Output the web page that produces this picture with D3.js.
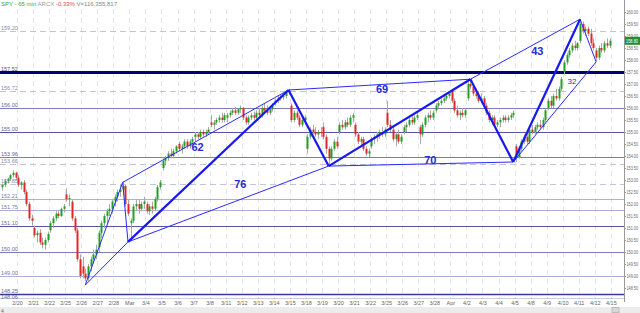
<!DOCTYPE html>
<html>
<head>
<meta charset="utf-8">
<script src="https://cdn.jsdelivr.net/npm/d3@7"></script>
<style>
  html, body { margin: 0; padding: 0; background: #fff; }
  svg { display: block; font-family: "Liberation Sans", Arial, sans-serif; }
</style>
</head>
<body>
<div id="chart"></div>
<script>
// day labels, first one (2/19) sits left of the first tick
const days = ['2/19', '2/20', '2/21', '2/22', '2/25', '2/26', '2/27', '2/28', 'Mar', '3/4', '3/5', '3/6', '3/7', '3/8',
  '3/11', '3/12', '3/13', '3/14', '3/15', '3/18', '3/19', '3/20', '3/21', '3/22', '3/25', '3/26', '3/27', '3/28',
  'Apr', '4/2', '4/3', '4/4', '4/5', '4/8', '4/9', '4/10', '4/11', '4/12', '4/15']
const barsPerDay = 6

// 65 min bars, one row per day: [open, high, low, close]
const bars = [
  [[152.70,152.85,152.55,152.80],[152.80,153.05,152.70,152.95],[152.95,153.10,152.85,153.05],[153.05,153.25,152.95,153.20],[153.20,153.40,153.10,153.30],[153.30,153.35,153.00,153.10]],
  [[153.10,153.20,152.70,152.80],[152.80,152.95,152.60,152.90],[152.90,153.00,152.40,152.50],[152.50,152.60,151.90,152.00],[152.00,152.10,151.30,151.40],[151.40,151.55,151.10,151.30]],
  [[151.00,151.10,150.60,150.70],[150.70,150.90,150.40,150.80],[150.80,150.95,150.30,150.40],[150.40,150.60,150.15,150.30],[150.30,150.60,150.10,150.50],[150.50,150.85,150.40,150.75]],
  [[150.90,151.30,150.80,151.20],[151.20,151.50,151.00,151.40],[151.40,151.70,151.30,151.60],[151.60,151.75,151.40,151.50],[151.50,151.85,151.45,151.80],[151.80,152.00,151.65,151.90]],
  [[152.40,152.65,152.10,152.20],[152.20,152.40,151.90,152.25],[152.10,152.20,151.30,151.40],[151.40,151.50,150.80,150.90],[150.90,151.00,149.60,149.70],[149.70,149.90,148.90,149.00]],
  [[149.40,149.80,148.90,149.10],[149.10,149.30,148.78,148.90],[148.90,149.50,148.80,149.40],[149.40,149.80,149.20,149.70],[149.70,150.10,149.50,149.90],[149.90,150.30,149.70,150.10]],
  [[150.20,150.90,150.00,150.80],[150.80,151.30,150.60,151.20],[151.20,151.60,151.00,151.50],[151.50,151.80,151.20,151.70],[151.70,152.00,151.50,151.80],[151.80,152.20,151.60,152.10]],
  [[152.10,152.40,151.90,152.30],[152.30,152.60,152.10,152.50],[152.50,152.80,152.30,152.60],[152.60,152.95,152.40,152.75],[152.75,152.80,151.90,152.00],[152.00,152.20,151.50,151.60]],
  [[151.20,151.40,150.50,151.30],[151.30,152.00,151.20,151.90],[151.90,152.20,151.70,152.00],[152.00,152.20,151.60,151.80],[151.80,152.10,151.70,152.00],[152.00,152.30,151.80,152.10]],
  [[152.00,152.10,151.60,151.70],[151.70,152.00,151.55,151.90],[151.90,152.10,151.60,151.80],[151.80,152.30,151.70,152.20],[152.20,152.80,152.10,152.70],[152.70,153.00,152.60,152.90]],
  [[153.50,153.90,153.40,153.80],[153.80,154.00,153.60,153.90],[153.90,154.20,153.80,154.10],[154.10,154.30,153.90,154.00],[154.00,154.30,153.90,154.20],[154.20,154.45,154.10,154.40]],
  [[154.50,154.60,154.20,154.30],[154.30,154.50,154.10,154.40],[154.40,154.70,154.30,154.60],[154.60,154.70,154.30,154.40],[154.40,154.70,154.30,154.60],[154.60,154.80,154.40,154.70]],
  [[154.80,155.00,154.60,154.90],[154.90,155.00,154.70,154.80],[154.80,155.10,154.70,155.00],[155.00,155.10,154.80,154.90],[154.90,155.10,154.80,155.00],[155.00,155.20,154.90,155.10]],
  [[155.40,155.70,155.20,155.30],[155.30,155.50,155.10,155.40],[155.40,155.60,155.30,155.50],[155.50,155.70,155.40,155.60],[155.60,155.80,155.40,155.50],[155.50,155.80,155.40,155.70]],
  [[155.60,155.80,155.40,155.70],[155.70,155.90,155.60,155.80],[155.80,156.00,155.70,155.90],[155.90,156.05,155.70,155.80],[155.80,156.00,155.70,155.95],[155.95,156.10,155.80,156.00]],
  [[156.00,156.05,155.50,155.60],[155.60,155.70,155.30,155.40],[155.40,155.70,155.30,155.60],[155.60,155.80,155.50,155.70],[155.70,155.85,155.50,155.60],[155.60,155.90,155.50,155.80]],
  [[155.80,156.00,155.60,155.70],[155.70,156.10,155.60,156.00],[156.00,156.20,155.80,155.90],[155.90,156.10,155.70,155.80],[155.80,156.00,155.70,155.95],[155.95,156.20,155.85,156.10]],
  [[156.20,156.40,156.10,156.30],[156.30,156.50,156.20,156.40],[156.40,156.55,156.30,156.45],[156.45,156.60,156.35,156.50],[156.50,156.70,156.40,156.65],[156.65,156.80,156.55,156.70]],
  [[156.10,156.20,155.40,155.50],[155.50,155.90,155.40,155.80],[155.80,155.90,155.50,155.60],[155.60,155.70,155.20,155.30],[155.30,155.60,155.20,155.50],[155.50,155.70,155.30,155.60]],
  [[154.30,154.90,154.10,154.80],[154.80,155.20,154.70,155.10],[155.10,155.30,154.90,155.00],[155.00,155.20,154.80,154.90],[154.90,155.10,154.70,155.00],[155.00,155.20,154.80,154.95]],
  [[155.20,155.40,154.70,154.80],[154.80,154.90,154.10,154.30],[154.30,154.40,153.62,153.90],[153.90,154.40,153.80,154.30],[154.30,154.70,154.20,154.60],[154.60,154.80,154.30,154.40]],
  [[155.00,155.40,154.90,155.30],[155.30,155.50,155.10,155.20],[155.20,155.50,155.10,155.40],[155.40,155.60,155.20,155.30],[155.30,155.70,155.20,155.60],[155.60,155.80,155.40,155.70]],
  [[155.30,155.40,154.80,154.90],[154.90,155.00,154.50,154.60],[154.60,154.80,154.40,154.70],[154.70,154.80,154.20,154.30],[154.30,154.40,154.00,154.10],[154.10,154.30,153.95,154.20]],
  [[154.40,154.80,154.30,154.70],[154.70,154.90,154.50,154.80],[154.80,155.00,154.60,154.90],[154.90,155.10,154.70,155.00],[155.00,155.20,154.80,154.90],[154.90,155.20,154.80,155.10]],
  [[155.80,156.30,155.20,155.30],[155.30,155.50,155.00,155.10],[155.10,155.30,154.60,154.70],[154.70,155.00,154.40,154.90],[154.90,155.10,154.50,154.60],[154.60,154.90,154.50,154.80]],
  [[155.00,155.30,154.90,155.20],[155.20,155.40,155.00,155.30],[155.30,155.60,155.20,155.50],[155.50,155.70,155.30,155.40],[155.40,155.70,155.30,155.60],[155.60,155.80,155.50,155.70]],
  [[155.20,155.30,154.50,154.90],[154.90,155.40,154.80,155.30],[155.30,155.70,155.20,155.60],[155.60,155.80,155.40,155.70],[155.70,155.90,155.50,155.60],[155.60,155.90,155.50,155.80]],
  [[155.90,156.20,155.80,156.10],[156.10,156.30,156.00,156.20],[156.20,156.40,156.10,156.30],[156.30,156.50,156.20,156.40],[156.40,156.60,156.30,156.50],[156.50,156.70,156.40,156.60]],
  [[156.70,156.80,156.20,156.30],[156.30,156.40,155.80,155.90],[155.90,156.10,155.60,155.70],[155.70,155.90,155.50,155.80],[155.80,156.00,155.60,155.70],[155.70,156.00,155.60,155.90]],
  [[156.40,157.10,156.30,157.00],[157.00,157.20,156.80,156.90],[156.90,157.00,156.50,156.60],[156.60,156.80,156.40,156.50],[156.50,156.70,156.20,156.30],[156.30,156.60,156.20,156.40]],
  [[156.40,156.50,156.00,156.10],[156.10,156.20,155.70,155.80],[155.80,155.90,155.40,155.50],[155.50,155.70,155.30,155.60],[155.60,155.70,155.20,155.30],[155.30,155.50,155.20,155.40]],
  [[155.40,155.60,155.20,155.50],[155.50,155.70,155.40,155.60],[155.60,155.70,155.40,155.50],[155.50,155.70,155.40,155.60],[155.60,155.80,155.50,155.70],[155.70,155.90,155.60,155.80]],
  [[154.40,154.50,153.75,153.95],[153.95,154.40,153.90,154.30],[154.30,154.70,154.20,154.60],[154.60,154.90,154.50,154.80],[154.80,155.00,154.50,154.60],[154.60,155.20,154.50,155.10]],
  [[155.10,155.30,154.90,155.00],[155.00,155.30,154.90,155.20],[155.20,155.40,155.10,155.30],[155.30,155.50,155.10,155.20],[155.20,155.60,155.10,155.50],[155.50,156.00,155.40,155.90]],
  [[156.00,156.40,155.90,156.30],[156.30,156.50,156.00,156.10],[156.10,156.60,156.00,156.50],[156.50,156.80,156.30,156.40],[156.40,156.90,156.30,156.80],[156.80,157.30,156.70,157.20]],
  [[157.50,158.00,157.40,157.90],[157.90,158.30,157.80,158.20],[158.20,158.50,158.10,158.40],[158.40,158.70,158.30,158.60],[158.60,158.80,158.40,158.50],[158.50,158.75,158.40,158.70]],
  [[158.80,159.70,158.70,159.50],[159.50,159.60,159.10,159.20],[159.20,159.40,159.00,159.30],[159.30,159.40,159.00,159.10],[159.10,159.30,158.60,158.70],[158.70,158.90,158.40,158.50]],
  [[158.40,158.50,157.95,158.10],[158.10,158.60,158.00,158.50],[158.50,158.70,158.30,158.40],[158.40,158.80,158.30,158.70],[158.70,158.90,158.50,158.60],[158.60,158.90,158.50,158.80]]
]

// horizontal levels drawn on the chart
const levels = [
  { v: 159.20, label: '159.20', kind: 'dash' },
  { v: 157.52, label: '157.52', kind: 'thick' },
  { v: 156.72, label: '156.72', kind: 'dash' },
  { v: 156.00, label: '156.00', kind: 'mid' },
  { v: 155.00, label: '155.00', kind: 'dark' },
  { v: 153.96, label: '153.96', kind: 'mid' },
  { v: 153.66, label: '153.66', kind: 'dash' },
  { v: 152.85, label: '152.85', kind: 'dash' },
  { v: 152.21, label: '152.21', kind: 'light' },
  { v: 151.75, label: '151.75', kind: 'light' },
  { v: 151.10, label: '151.10', kind: 'dark' },
  { v: 150.00, label: '150.00', kind: 'mid' },
  { v: 149.00, label: '149.00', kind: 'light' },
  { v: 148.25, label: '148.25', kind: 'navy' },
  { v: 148.06, label: '148.06', kind: 'navy' }
]

// pivots: [day label, bar in day, price]
const pivots = {
  A: ['2/26', 1, 148.62],
  B: ['2/28', 3, 152.90],
  C: ['2/28', 5, 150.42],
  E: ['3/14', 5, 156.75],
  D: ['3/19', 2, 153.58],
  F: ['4/2', 1, 157.20],
  G: ['4/4', 5, 153.75],
  H: ['4/11', 0, 159.70],
  I: ['4/12', 0, 157.92]
}
const thickSegs = [['C', 'E'], ['E', 'D'], ['D', 'F'], ['F', 'G'], ['G', 'H']]
const thinSegs = [['A', 'B'], ['B', 'C'], ['A', 'C'], ['B', 'E'], ['C', 'D'], ['E', 'F'], ['D', 'G'], ['F', 'H'], ['H', 'I'], ['I', 'G']]

// bar counts written next to the lines: [text, day, bar, price, size]
const counts = [
  ['62', '3/7', 1, 154.33, 11],
  ['76', '3/11', 5, 152.79, 11],
  ['69', '3/22', 4, 156.75, 11],
  ['70', '3/27', 4, 153.79, 11],
  ['43', '4/8', 2, 158.33, 11],
  ['32', '4/10', 3, 157.08, 8]
]

const yTicks = d3.range(148.5, 160.01, 0.5)
const lastPrice = 158.80

const W = 640, H = 313
const plot = { left: 0, right: 624, top: 9, bottom: 299 }
const svg = d3.select('#chart').append('svg').attr('width', W).attr('height', H)

const dayW = 16.05
// bar index 0 = first bar of 2/20
const x = d3.scaleLinear()
  .domain([0, (days.length - 1) * barsPerDay])
  .range([17, 17 + (days.length - 1) * dayW])
const y = d3.scaleLinear().domain([148.5, 160]).range([288, 12])

const flat = []
bars.forEach((day, d) => day.forEach((b, j) => {
  flat.push({ i: (d - 1) * barsPerDay + j, o: b[0], h: b[1], l: b[2], c: b[3] })
}))
const barIdx = (day, j) => (days.indexOf(day) - 1) * barsPerDay + j
const px = p => x(barIdx(p[0], p[1]) + 0.5)

svg.append('defs').append('clipPath').attr('id', 'clip')
  .append('rect').attr('x', plot.left).attr('y', plot.top)
  .attr('width', plot.right - plot.left).attr('height', plot.bottom - plot.top)

const g = svg.append('g').attr('clip-path', 'url(#clip)')

// vertical day grid
g.selectAll('.vgrid').data(days.slice(1)).enter().append('line')
  .attr('x1', (d, k) => Math.round(x(k * barsPerDay)) + 0.5)
  .attr('x2', (d, k) => Math.round(x(k * barsPerDay)) + 0.5)
  .attr('y1', plot.top).attr('y2', plot.bottom)
  .style('stroke', '#e6e6e6').style('stroke-dasharray', '5,4')

// level lines
const levelStyle = {
  dash: { c: '#c4c4d8', w: 1, dash: '6,4', t: '#8a8aa8' },
  thick: { c: '#000070', w: 3, dash: null, t: '#50508a' },
  mid: { c: '#7c7cb8', w: 1, dash: null, t: '#6a6aa0' },
  dark: { c: '#5656a0', w: 1, dash: null, t: '#6a6aa0' },
  light: { c: '#aeaed6', w: 1, dash: null, t: '#7a7aa8' },
  navy: { c: '#3a3a96', w: 1.5, dash: null, t: '#6a6aa0' }
}
g.selectAll('.level').data(levels).enter().append('line')
  .attr('x1', plot.left).attr('x2', plot.right)
  .attr('y1', d => Math.round(y(d.v)) + 0.5).attr('y2', d => Math.round(y(d.v)) + 0.5)
  .style('stroke', d => levelStyle[d.kind].c)
  .style('stroke-width', d => levelStyle[d.kind].w)
  .style('stroke-dasharray', d => levelStyle[d.kind].dash)

// candles
const cw = 2
const candles = g.selectAll('.candle').data(flat).enter().append('g')
candles.append('line')
  .attr('x1', d => Math.round(x(d.i + 0.5)) + 0.5).attr('x2', d => Math.round(x(d.i + 0.5)) + 0.5)
  .attr('y1', d => y(d.h)).attr('y2', d => y(d.l))
  .style('stroke', '#a8a8a8').style('stroke-width', 1)
candles.append('rect')
  .attr('x', d => Math.round(x(d.i + 0.5)) - 0.5)
  .attr('width', cw)
  .attr('y', d => y(Math.max(d.o, d.c)))
  .attr('height', d => Math.max(1, Math.abs(y(d.o) - y(d.c))))
  .style('fill', d => d.c >= d.o ? '#20a020' : '#e02828')

// trend lines
const pt = k => [px(pivots[k]), y(pivots[k][2])]
g.selectAll('.thin').data(thinSegs).enter().append('line')
  .attr('x1', s => pt(s[0])[0]).attr('y1', s => pt(s[0])[1])
  .attr('x2', s => pt(s[1])[0]).attr('y2', s => pt(s[1])[1])
  .style('stroke', '#2a2aff').style('stroke-width', 1)
g.selectAll('.thick').data(thickSegs).enter().append('line')
  .attr('x1', s => pt(s[0])[0]).attr('y1', s => pt(s[0])[1])
  .attr('x2', s => pt(s[1])[0]).attr('y2', s => pt(s[1])[1])
  .style('stroke', '#1818f0').style('stroke-width', 2.2)

// level labels on the left (the two bottom ones are packed tight)
svg.selectAll('.lvlTxt').data(levels).enter().append('text')
  .attr('x', 1)
  .attr('y', d => d.label === '148.06' ? 299 : d.label === '148.25' ? 292.5 : Math.round(y(d.v)) - 1.5)
  .style('font-size', '5.5px').style('fill', d => levelStyle[d.kind].t)
  .text(d => d.label)

// counts
svg.selectAll('.count').data(counts).enter().append('text')
  .attr('x', d => x(barIdx(d[1], d[2]) + 0.5)).attr('y', d => y(d[3]))
  .attr('text-anchor', 'middle').attr('dominant-baseline', 'middle')
  .style('font-size', d => d[4] + 'px').style('font-weight', d => d[4] > 9 ? 'bold' : 'normal')
  .style('fill', '#2a2ad0')
  .text(d => d[0])

// right axis
svg.append('line').attr('x1', plot.right + 0.5).attr('x2', plot.right + 0.5)
  .attr('y1', 0).attr('y2', plot.bottom + 3).style('stroke', '#999')
const yAxis = d3.axisRight(y).tickValues(yTicks).tickSize(2).tickFormat(d3.format('.2f'))
svg.append('g').attr('transform', `translate(${plot.right},0)`).call(yAxis)
  .call(a => a.select('.domain').remove())
  .call(a => a.selectAll('line').style('stroke', '#999'))
  .call(a => a.selectAll('text').attr('x', 2.5).style('font-size', '4.6px').style('fill', '#666')
    .attr('textLength', 11.5).attr('lengthAdjust', 'spacingAndGlyphs')
    .style('font-family', '"Liberation Sans Narrow", "Liberation Sans", Arial, sans-serif'))

// last price box
svg.append('rect').attr('x', plot.right + 1).attr('y', y(lastPrice) - 4)
  .attr('width', 15).attr('height', 8).style('fill', '#1f8f2f')
svg.append('text').attr('x', plot.right + 2).attr('y', y(lastPrice) + 2)
  .attr('textLength', 12).attr('lengthAdjust', 'spacingAndGlyphs')
  .style('font-size', '4.8px').style('fill', '#fff')
  .style('font-family', '"Liberation Sans Narrow", "Liberation Sans", Arial, sans-serif')
  .text(lastPrice.toFixed(2))

// x axis labels
const xAxis = d3.axisBottom(x)
  .tickValues(d3.range(0, days.length - 1).map(k => k * barsPerDay))
  .tickFormat((d, k) => days[k + 1]).tickSize(0)
svg.append('g').attr('transform', `translate(0,${plot.bottom})`).call(xAxis)
  .call(a => a.select('.domain').remove())
  .call(a => a.selectAll('text').attr('dy', '0.3em').attr('y', 4).style('font-size', '5.5px').style('fill', '#666')
    .style('font-family', '"Liberation Sans", Arial, sans-serif'))

// scroll strip at the bottom
svg.append('rect').attr('x', 0).attr('y', 307).attr('width', W).attr('height', 6).style('fill', '#ececec')
svg.append('rect').attr('x', 612).attr('y', 307.5).attr('width', 7).attr('height', 5)
  .style('fill', '#d8d8d8').style('stroke', '#bbb')
svg.append('text').attr('x', 1).attr('y', 312.5).style('font-size', '5px').style('fill', '#666').text('4')

// header
const head = svg.append('text').attr('x', 1).attr('y', 6).style('font-size', '6px')
head.append('tspan').style('fill', '#3aa04a').text('SPY - 65 min  ')
head.append('tspan').style('fill', '#999').text('ARCX  ')
head.append('tspan').style('fill', '#e05050').text('-0.33%  ')
head.append('tspan').style('fill', '#888').text('V=116,355,817')
</script>
</body>
</html>
